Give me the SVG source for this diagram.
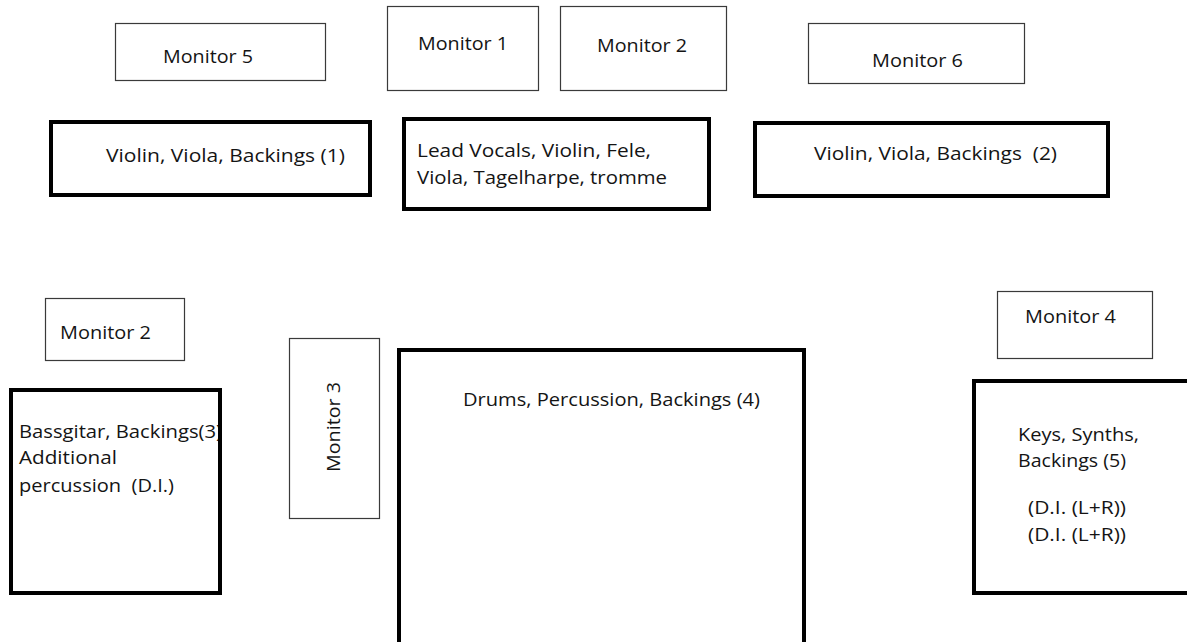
<svg xmlns="http://www.w3.org/2000/svg" width="1187" height="642" viewBox="0 0 1187 642">
<style>
  .mon { fill: #ffffff; stroke: #3a3a3a; stroke-width: 1.2; }
  .pos { fill: #ffffff; stroke: #000000; stroke-width: 4; }
  .open { fill: none; }
  text { font-family: "Open Sans", "Noto Sans", sans-serif; font-size: 18.5px; fill: #141414; }
</style>
<rect x="0" y="0" width="1187" height="642" fill="#ffffff"/>

<g id="monitor5">
  <rect class="mon" x="115.5" y="23.5" width="210" height="57"/>
  <text x="163" y="63" textLength="90" lengthAdjust="spacingAndGlyphs">Monitor 5</text>
</g>
<g id="monitor1">
  <rect class="mon" x="387.5" y="6.5" width="151" height="84"/>
  <text x="418" y="50" textLength="90" lengthAdjust="spacingAndGlyphs">Monitor 1</text>
</g>
<g id="monitor2-top">
  <rect class="mon" x="560.5" y="6.5" width="166" height="84"/>
  <text x="597" y="52" textLength="90" lengthAdjust="spacingAndGlyphs">Monitor 2</text>
</g>
<g id="monitor6">
  <rect class="mon" x="808.5" y="23.5" width="216" height="60"/>
  <text x="872" y="67" textLength="91" lengthAdjust="spacingAndGlyphs">Monitor 6</text>
</g>

<g id="violin1">
  <rect class="pos" x="51" y="122" width="319" height="73"/>
  <text x="106" y="162" textLength="239" lengthAdjust="spacingAndGlyphs">Violin, Viola, Backings (1)</text>
</g>
<g id="lead">
  <rect class="pos" x="404" y="119" width="305" height="90"/>
  <text x="417" y="157" textLength="234" lengthAdjust="spacingAndGlyphs">Lead Vocals, Violin, Fele,</text>
  <text x="417" y="184" textLength="250" lengthAdjust="spacingAndGlyphs">Viola, Tagelharpe, tromme</text>
</g>
<g id="violin2">
  <rect class="pos" x="755" y="123" width="353" height="73"/>
  <text x="814" y="160" textLength="243" lengthAdjust="spacingAndGlyphs" xml:space="preserve">Violin, Viola, Backings  (2)</text>
</g>

<g id="monitor2-left">
  <rect class="mon" x="45.5" y="298.5" width="139" height="62"/>
  <text x="60" y="339" textLength="91" lengthAdjust="spacingAndGlyphs">Monitor 2</text>
</g>
<g id="bass">
  <text x="19" y="438" textLength="203" lengthAdjust="spacingAndGlyphs">Bassgitar, Backings(3)</text>
  <text x="19" y="464" textLength="98" lengthAdjust="spacingAndGlyphs">Additional</text>
  <text x="19" y="492" textLength="155" lengthAdjust="spacingAndGlyphs" xml:space="preserve">percussion  (D.I.)</text>
  <rect class="pos open" x="11" y="390" width="209" height="203"/>
</g>
<g id="monitor3">
  <rect class="mon" x="289.5" y="338.5" width="90" height="180"/>
  <text transform="translate(340,472) rotate(-90)" x="0" y="0" textLength="90" lengthAdjust="spacingAndGlyphs">Monitor 3</text>
</g>
<g id="drums">
  <rect class="pos" x="399" y="350" width="405" height="300"/>
  <text x="463" y="406" textLength="297" lengthAdjust="spacingAndGlyphs">Drums, Percussion, Backings (4)</text>
</g>
<g id="monitor4">
  <rect class="mon" x="997.5" y="291.5" width="155" height="67"/>
  <text x="1025" y="323" textLength="91" lengthAdjust="spacingAndGlyphs">Monitor 4</text>
</g>
<g id="keys">
  <rect class="pos" x="974" y="381" width="240" height="212"/>
  <text x="1018" y="441" textLength="121" lengthAdjust="spacingAndGlyphs">Keys, Synths,</text>
  <text x="1018" y="467" textLength="108" lengthAdjust="spacingAndGlyphs">Backings (5)</text>
  <text x="1028" y="514" textLength="98" lengthAdjust="spacingAndGlyphs">(D.I. (L+R))</text>
  <text x="1028" y="541" textLength="98" lengthAdjust="spacingAndGlyphs">(D.I. (L+R))</text>
</g>
<g id="connectors"></g>
</svg>
